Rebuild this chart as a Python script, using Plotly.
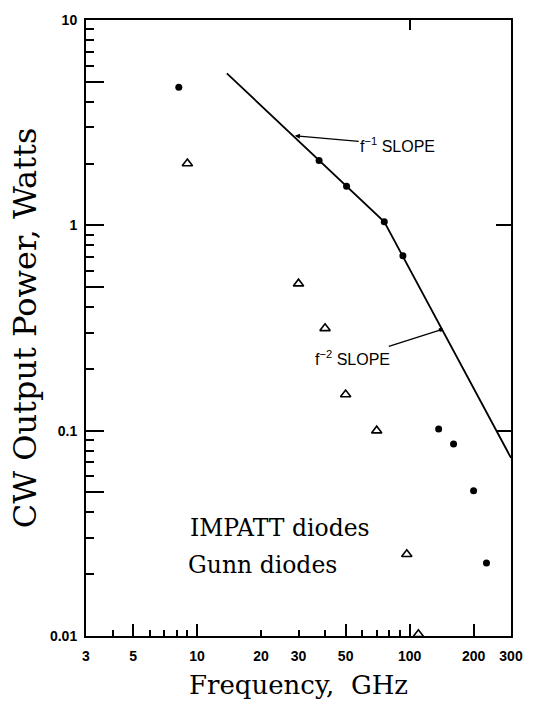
import numpy as np
import plotly.graph_objects as go

# ---- data ----
impatt_freq = [8.2, 37.5, 50.5, 76, 93, 137, 161, 200, 230]
impatt_power = [4.7, 2.07, 1.55, 1.04, 0.71, 0.102, 0.086, 0.051, 0.0227]

gunn_freq = [9.0, 30, 40, 50, 70, 97, 110]
gunn_power = [2.0, 0.52, 0.315, 0.15, 0.10, 0.025, 0.0102]

limit_freq = [13.8, 76, 300]
limit_power = [5.5, 1.04, 0.0737]

x_tick_vals = [3, 5, 10, 20, 30, 50, 100, 200, 300]
x_tick_text = ["3", "5", "10", "20", "30", "50", "100", "200", "300"]
x_long_ticks = [5, 10, 50, 100, 200]
x_minor_ticks = [4, 6, 7, 8, 9, 40, 60, 70, 80, 90]

y_tick_vals = [0.01, 0.05, 0.1, 0.5, 1, 5, 10]
y_tick_text = ["0.01", " ", "0.1", " ", "1", " ", "10"]
y_minor_ticks = [0.02, 0.03, 0.04, 0.06, 0.07, 0.08, 0.09,
                 0.2, 0.3, 0.4, 0.6, 0.7, 0.8, 0.9,
                 2, 3, 4, 6, 7, 8, 9]
y_right_ticks = [0.1, 1]
x_top_ticks = [100]

x_range = [np.log10(3), np.log10(300)]
y_range = [np.log10(0.01), np.log10(10)]

SERIF = "DejaVu Serif"
SANS = "Liberation Sans"

fig = go.Figure()

fig.add_trace(go.Scatter(
    x=limit_freq, y=limit_power, mode="lines",
    line=dict(color="black", width=1.8),
    xaxis="x2", yaxis="y2", showlegend=False, hoverinfo="skip"))

fig.add_trace(go.Scatter(
    x=impatt_freq, y=impatt_power, mode="markers", name="IMPATT diodes",
    marker=dict(symbol="circle", size=7, color="black"),
    showlegend=False))

fig.add_trace(go.Scatter(
    x=gunn_freq, y=gunn_power, mode="markers", name="Gunn diodes",
    marker=dict(symbol="triangle-up-open", size=9, color="black",
                line=dict(width=1.6, color="black")),
    xaxis="x3", showlegend=False))

common_axis = dict(showgrid=False, zeroline=False)

fig.update_layout(
    width=535, height=710,
    margin=dict(l=86, r=17, t=14, b=74),
    paper_bgcolor="white", plot_bgcolor="white",
    xaxis=dict(
        type="log", range=x_range, **common_axis,
        showline=True, linecolor="black", linewidth=2, mirror=True,
        tickmode="array", tickvals=x_tick_vals, ticktext=x_tick_text,
        ticks="inside", ticklen=6, tickwidth=1.5, tickcolor="black",
        ticklabelstandoff=6,
        tickfont=dict(family=SANS, size=14, color="black", weight=700),
        minor=dict(tickmode="array", tickvals=x_minor_ticks, ticks="inside",
                   ticklen=6, tickwidth=1.5, tickcolor="black", showgrid=False),
        title=dict(text="Frequency,  GHz", standoff=13,
                   font=dict(family=SERIF, size=26, color="black")),
    ),
    xaxis2=dict(
        type="log", range=x_range, **common_axis, overlaying="x", anchor="y",
        side="bottom", showline=False,
        tickmode="array", tickvals=x_long_ticks, showticklabels=False,
        ticks="inside", ticklen=12, tickwidth=1.5, tickcolor="black",
    ),
    xaxis3=dict(
        type="log", range=x_range, **common_axis, overlaying="x", anchor="y",
        side="top", showline=False,
        tickmode="array", tickvals=x_top_ticks, showticklabels=False,
        ticks="inside", ticklen=10, tickwidth=1.5, tickcolor="black",
    ),
    yaxis=dict(
        type="log", range=y_range, **common_axis,
        showline=True, linecolor="black", linewidth=2, mirror=True,
        tickmode="array", tickvals=y_tick_vals, ticktext=y_tick_text,
        ticks="inside", ticklen=18, tickwidth=1.5, tickcolor="black",
        ticklabelstandoff=4,
        tickfont=dict(family=SANS, size=14, color="black", weight=700),
        minor=dict(tickmode="array", tickvals=y_minor_ticks, ticks="inside",
                   ticklen=8, tickwidth=1.5, tickcolor="black", showgrid=False),
        title=dict(text="CW Output Power, Watts", standoff=4,
                   font=dict(family=SERIF, size=32, color="black")),
    ),
    yaxis2=dict(
        type="log", range=y_range, **common_axis, overlaying="y", anchor="x",
        side="right", showline=False,
        tickmode="array", tickvals=y_right_ticks, showticklabels=False,
        ticks="inside", ticklen=15, tickwidth=1.5, tickcolor="black",
    ),
    showlegend=False,
)

# slope annotations (annotation positions on log axes are given in log10)
fig.add_annotation(
    x=np.log10(28.8), y=np.log10(2.73), xref="x", yref="y",
    text="f<sup>−1</sup> SLOPE", showarrow=True, arrowhead=2, arrowsize=0.8,
    arrowwidth=1.3, arrowcolor="black", ax=103, ay=9,
    font=dict(family=SANS, size=16, color="black"), xanchor="center")

fig.add_annotation(
    x=np.log10(140), y=np.log10(0.31), xref="x", yref="y",
    text="f<sup>−2</sup> SLOPE", showarrow=True, arrowhead=6, arrowsize=0.8,
    arrowwidth=1.3, arrowcolor="black", ax=-88, ay=28,
    font=dict(family=SANS, size=16, color="black"), xanchor="center")

# key text (as printed, without symbols)
fig.add_annotation(
    x=np.log10(9.1), y=np.log10(0.0336), xref="x", yref="y",
    text="IMPATT diodes", showarrow=False, xanchor="left", yanchor="middle",
    font=dict(family=SERIF, size=23.5, color="black"))
fig.add_annotation(
    x=np.log10(8.9), y=np.log10(0.0222), xref="x", yref="y",
    text="Gunn diodes", showarrow=False, xanchor="left", yanchor="middle",
    font=dict(family=SERIF, size=23.5, color="black"))

fig.write_html("out.html")
